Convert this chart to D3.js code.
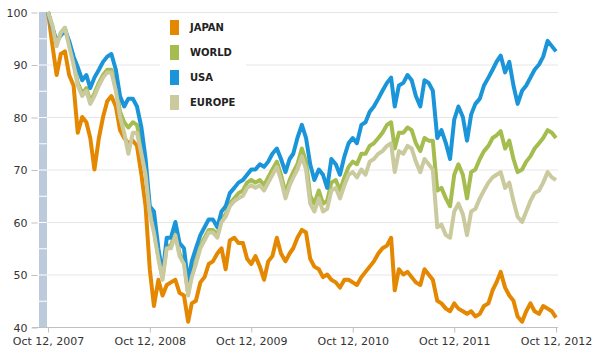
<!DOCTYPE html>
<html>
<head>
<meta charset="utf-8">
<script src="https://cdn.jsdelivr.net/npm/d3@7"></script>
<style>
  body { margin: 0; background: #fff; }
  svg text { font-family: "DejaVu Sans", Verdana, sans-serif; }
</style>
</head>
<body>
<svg id="chart" width="600" height="354"></svg>
<script>
// index values, sampled twice a month from Oct 12, 2007 to Oct 12, 2012
var japan = [
  100, 94, 88, 92, 92.5, 88, 86, 77, 80, 79, 76, 70, 76, 80, 83, 84, 82, 77.5, 76, 75, 75.5, 74.5, 69, 63,
  51, 44, 49, 46, 48, 48.5, 49, 46.5, 46, 41, 44.5, 45, 48.5, 49.5, 52, 52.5, 54, 55, 51, 56.5, 57, 56, 56, 53,
  52, 53.5, 51.5, 49, 52.5, 53.5, 57, 54, 52.5, 54, 55, 57, 58.5, 58, 53, 51.5, 51, 49.5, 50, 49, 48.5, 47.5, 49, 49,
  48.5, 48, 49.5, 50.5, 51.5, 52.5, 54, 55, 55.5, 57, 47, 51, 50, 50.5, 49.5, 48.5, 48, 51, 50, 49, 45, 44.5, 43.5, 43,
  44.5, 43.5, 43, 42.5, 43, 42, 42.5, 44, 44.5, 47, 48.5, 50.5, 47.5, 46, 45, 42, 41, 43, 44.5, 43, 42.5, 44, 43.5, 43, 41.8
];
var world = [
  100, 97.5, 94, 96, 97, 94, 90.5, 86.5, 84.5, 85.5, 83, 84.5, 86.5, 88, 89, 89, 86, 81, 79, 78, 79, 78.5, 74.5, 70,
  62, 58.5, 53.5, 49.5, 55.5, 55.5, 58, 54, 52.5, 46.5, 50, 52.5, 55.5, 57, 58.5, 58.5, 57.5, 60.5, 61.5, 63.5, 64.5, 65.5, 66, 67.5,
  68, 67.5, 68, 67, 68.5, 70, 71.5, 69, 65.5, 68, 69.5, 71, 74, 71.5, 65, 63.5, 66, 63.5, 64, 67.5, 68, 66, 68.5, 70.5,
  71.5, 71, 73, 73, 74.5, 75, 76, 77, 78.5, 79, 74, 77, 77, 78, 77.5, 75, 73.5, 76, 75.5, 75.5, 66, 66.5, 64.5, 63,
  69, 71, 69, 64.5, 69.5, 70, 72, 73.5, 74.5, 76, 76.5, 77.3, 74, 75.5, 72, 69.5, 70, 71.5, 72.5, 74, 75, 76, 77.5, 77, 76
];
var usa = [
  100, 97, 94.5, 95.5, 96.5, 94.5, 91.5, 89.5, 87, 88, 85.5, 87.5, 89, 90.5, 91.5, 92, 89, 84, 82, 83.5, 83.5, 82, 78, 72,
  63, 62, 55, 50, 57, 57, 60, 56, 55, 48.5, 52.5, 55, 57.5, 59, 60.5, 60.5, 59, 62, 63, 65.5, 66.5, 67.5, 68, 69,
  70, 70, 71, 70.5, 71.5, 73, 74, 72, 69.5, 72, 73, 76, 78.5, 76, 71, 68, 70, 69, 66.5, 72, 71, 69, 72.5, 75,
  76, 75, 78.5, 79, 81, 82, 83.5, 85, 86.5, 87.5, 82, 86, 86.5, 88, 87, 84, 82, 87, 86.5, 85, 76, 77.5, 75, 72,
  79.5, 82, 80, 75.5, 80.5, 82.5, 83.5, 86, 87.5, 89, 90.5, 91.7, 88.5, 90.5, 86, 82.5, 85, 86, 87.5, 89, 90, 91.5, 94.5, 93.5, 92.5
];
var europe = [
  100, 97.5, 93.5, 96, 97, 93.5, 90, 86, 84, 85, 82.5, 84, 86, 87.5, 88.5, 88.5, 85, 80, 77, 73, 77, 77, 73, 69,
  61.5, 58, 53, 49, 55, 55, 57.5, 53.5, 52, 46, 49.5, 52, 55, 56.5, 58, 58, 57, 60, 61, 63, 64, 64.5, 65, 66.5,
  67, 66.5, 67, 66, 67.5, 69, 70.5, 68, 64.5, 67, 68.5, 70, 72.5, 70, 63.5, 62, 64.5, 62, 62.5, 66, 66.5, 64.5, 67, 69,
  69.5, 68.5, 70, 69, 71.5, 72, 73, 73.5, 74.5, 75, 69.5, 73.5, 73, 74.5, 74, 71.5, 69.5, 72, 71, 70, 59, 59.5, 57.5, 57,
  62, 63.5, 61.5, 57.5, 62, 62.5, 64.5, 66, 67.5, 68.5, 69, 69.5, 66.5, 67.5, 64, 61, 60, 62, 64, 65.5, 66, 67.5, 69.5, 68.5, 68
];
var seriesNames = ['JAPAN', 'WORLD', 'USA', 'EUROPE'];
var seriesColors = ['#e48701', '#a5bc4e', '#1b95d9', '#caca9e'];
var yTicks = [40, 50, 60, 70, 80, 90, 100];
var xTickDates = [
  new Date(2007, 9, 12), new Date(2008, 9, 12), new Date(2009, 9, 12),
  new Date(2010, 9, 12), new Date(2011, 9, 12), new Date(2012, 9, 12)
];

// sample dates: the 12th and the 27th of every month
var dates = japan.map(function (d, i) {
  return new Date(2007, 9 + Math.floor(i / 2), i % 2 ? 27 : 12);
});
var allSeries = [japan, world, usa, europe];

var svg = d3.select('#chart');
var margins = { top: 12, right: 44, bottom: 27, left: 48 };
var width = 600, height = 354;

var x = d3.scaleTime()
  .domain([xTickDates[0], xTickDates[xTickDates.length - 1]])
  .range([margins.left, width - margins.right]);
var y = d3.scaleLinear()
  .domain([40, 100])
  .range([height - margins.bottom, margins.top]);

// horizontal grid
svg.append('g')
  .selectAll('line')
  .data(yTicks.slice(1))
  .join('line')
  .attr('x1', 39).attr('x2', width - 42)
  .attr('y1', function (d) { return y(d) + 0.5; })
  .attr('y2', function (d) { return y(d) + 0.5; })
  .attr('stroke', '#e6e6e6');

// left band with white separators every 5 units
svg.append('rect')
  .attr('x', 39).attr('y', y(100))
  .attr('width', 8).attr('height', y(40) - y(100))
  .attr('fill', '#bccbdb');
svg.append('g')
  .selectAll('line')
  .data(d3.range(45, 100, 5))
  .join('line')
  .attr('x1', 39).attr('x2', 47)
  .attr('y1', function (d) { return y(d) + 0.5; })
  .attr('y2', function (d) { return y(d) + 0.5; })
  .attr('stroke', '#fff');

// y axis labels + ticks
var yAxis = d3.axisLeft(y).tickValues(yTicks).tickSize(6).tickPadding(4);
var gy = svg.append('g').attr('transform', 'translate(37.5,0.5)').call(yAxis);
gy.select('.domain').remove();
gy.selectAll('line').attr('stroke', '#c0c0c0');
gy.selectAll('text')
  .attr('fill', '#333')
  .style('font-size', '11px');

// x axis
var xAxis = d3.axisBottom(x).tickValues(xTickDates).tickSize(5).tickPadding(5)
  .tickFormat(d3.timeFormat('%b %d, %Y'));
var gx = svg.append('g').attr('transform', 'translate(0,' + (y(40) + 0.5) + ')').call(xAxis);
gx.select('.domain').attr('d', 'M32,0H' + (width - 42)).attr('stroke', '#c0c0c0');
gx.selectAll('line').attr('stroke', '#c0c0c0');
gx.selectAll('text')
  .attr('fill', '#333')
  .style('font-size', '11px');

// series lines
var line = d3.line()
  .x(function (d, i) { return x(dates[i]); })
  .y(function (d) { return y(d); });

svg.append('g')
  .selectAll('path')
  .data(allSeries)
  .join('path')
  .attr('d', line)
  .attr('fill', 'none')
  .attr('stroke', function (d, i) { return seriesColors[i]; })
  .attr('stroke-width', 4)
  .attr('stroke-linejoin', 'round');

// legend
var legend = svg.append('g');
legend.append('rect')
  .attr('x', 160).attr('y', 14)
  .attr('width', 86).attr('height', 101)
  .attr('fill', '#fff');
var item = legend.selectAll('g')
  .data(seriesNames)
  .join('g')
  .attr('transform', function (d, i) { return 'translate(170,' + (20 + i * 25) + ')'; });
item.append('rect')
  .attr('width', 9).attr('height', 15)
  .attr('fill', function (d, i) { return seriesColors[i]; });
item.append('text')
  .attr('x', 20).attr('y', 11)
  .attr('fill', '#222')
  .style('font-size', '10px')
  .style('font-weight', 'bold')
  .text(function (d) { return d; });
</script>
</body>
</html>
